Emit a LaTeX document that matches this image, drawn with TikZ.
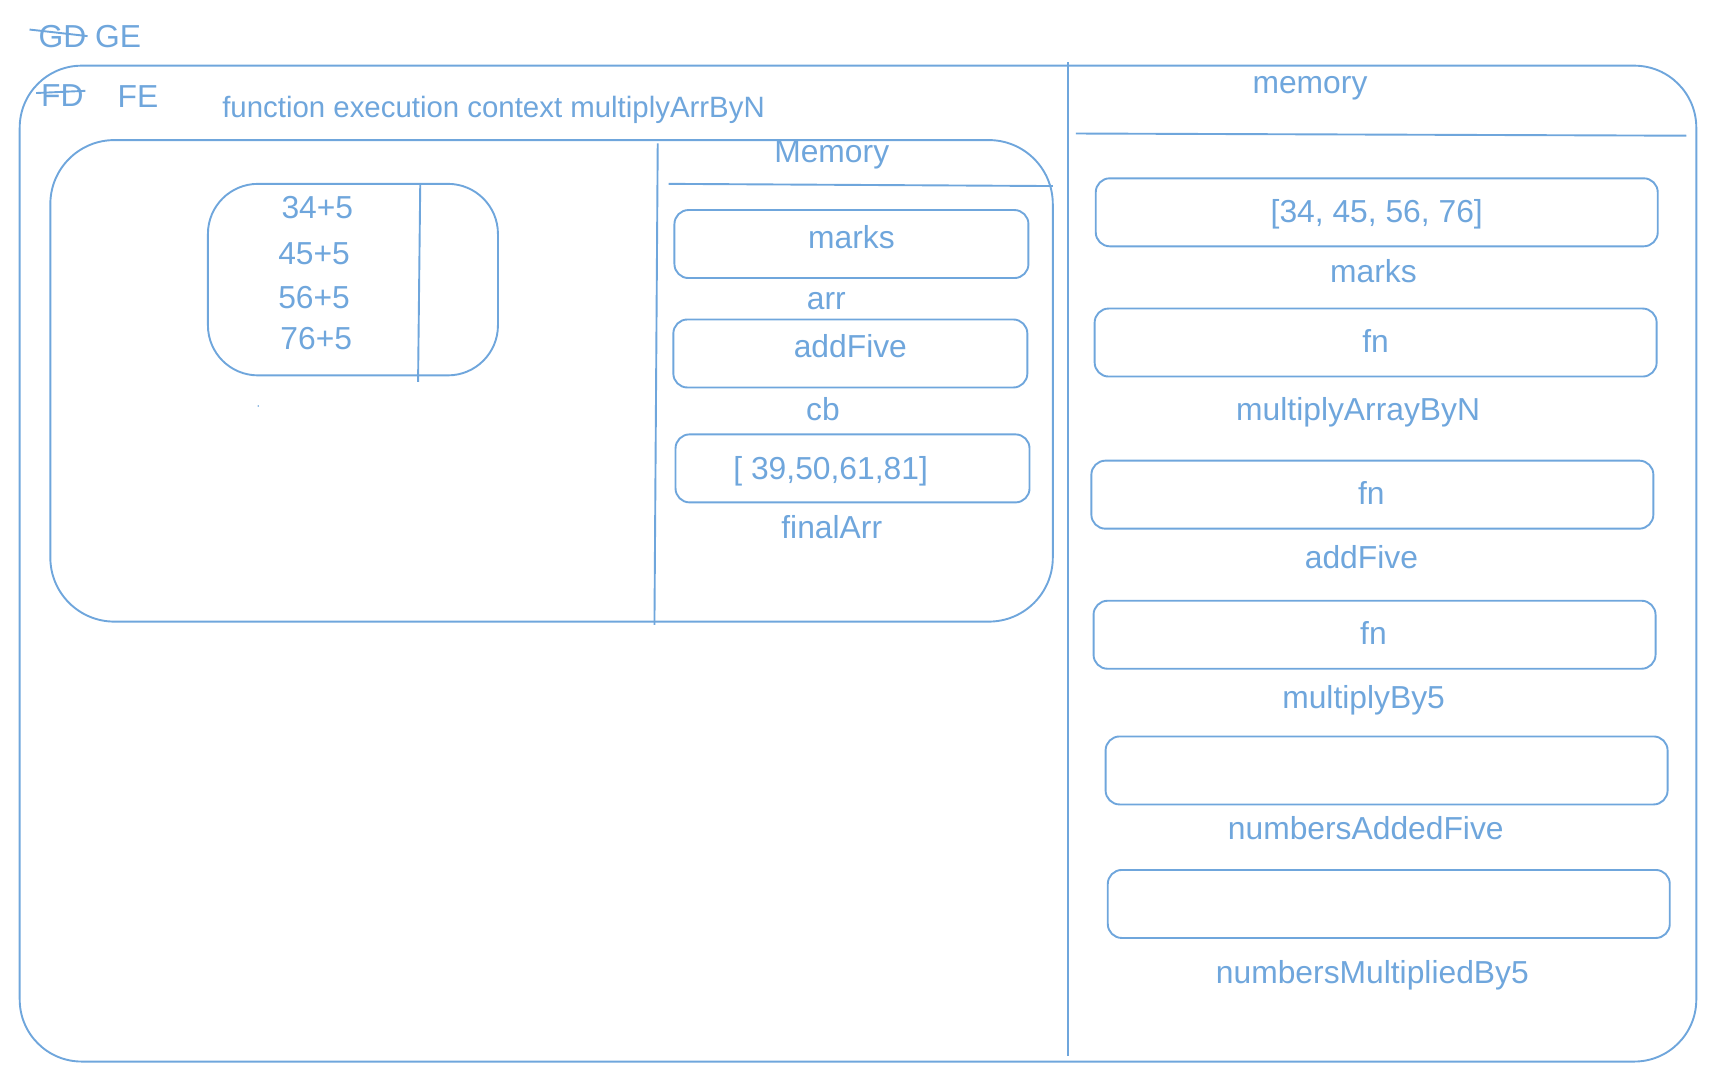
\documentclass[tikz,border=0pt]{standalone}
\usepackage{fontspec}
\setmainfont{Liberation Sans}
\definecolor{lblue}{RGB}{111,166,220}
\begin{document}
\begin{tikzpicture}[x=1.0944pt,y=-1.0944pt,
  lbl/.style={inner sep=0pt,text height=22pt,text depth=0pt,text=lblue,font=\fontsize{31.8}{37}\selectfont},
  smalllbl/.style={lbl,font=\fontsize{29.4}{34}\selectfont},
  ln/.style={draw=lblue,line width=1.9pt},
  membox/.style={ln,rounded corners=14pt,minimum width=562pt,minimum height=68pt,inner sep=0pt},
  lmembox/.style={ln,rounded corners=14pt,minimum width=354pt,minimum height=68pt,inner sep=0pt}]
\useasboundingbox (0,0) rectangle (1568,989);
% title marks
\node[lbl] (gd) at (57,33) {GD};
\node[lbl] (ge) at (108,33) {GE};
\coordinate (gds) at (27,27); \coordinate (gde) at (80,33);
\draw[ln] (gds) -- (gde);
% outer global box
\draw[ln,rounded corners=62pt] (18,60) rectangle (1550,970);
\coordinate (dvt) at (976,57); \coordinate (dvb) at (976,965);
\draw[ln] (dvt) -- (dvb);
\node[lbl] (fd) at (57,87) {FD};
\node[lbl] (fe) at (126,88) {FE};
\coordinate (fds) at (33,85); \coordinate (fde) at (78,83);
\draw[ln] (fds) -- (fde);
\node[smalllbl] (fectitle) at (451,97) {function execution context multiplyArrByN};
% function execution context box
\draw[ln,rounded corners=64pt] (46,128) rectangle (962,568);
\coordinate (ivt) at (601,131); \coordinate (ivb) at (598,571);
\draw[ln] (ivt) -- (ivb);
\node[lbl] (memL) at (760,138) {Memory};
\coordinate (mlA) at (611,168); \coordinate (mlB) at (962,170);
\draw[ln] (mlA) -- (mlB);
\node[lmembox] (bmarks) at (778,223) {};
\node[lbl] (tmarks) at (778,217) {marks};
\node[lbl] (tarr) at (755,273) {arr};
\node[lmembox] (badd) at (777,323) {};
\node[lbl] (tadd) at (777,317) {addFive};
\node[lbl] (tcb) at (752,374) {cb};
\node[lmembox] (bres) at (779,428) {};
\node[lbl] (tres) at (759,428) {[ 39,50,61,81]};
\node[lbl] (tfinal) at (760,482) {finalArr};
% small calc box
\draw[ln,rounded corners=50pt] (190,168) rectangle (455,343);
\coordinate (svt) at (384,168); \coordinate (svb) at (382,349);
\draw[ln] (svt) -- (svb);
\node[lbl] (c1) at (290,190) {34+5};
\node[lbl] (c2) at (287,232) {45+5};
\node[lbl] (c3) at (287,272) {56+5};
\node[lbl] (c4) at (289,309) {76+5};
\fill[lblue] (236,371) circle (0.8pt);
% global memory
\node[lbl] (memG) at (1197,75) {memory};
\coordinate (gmA) at (983,122); \coordinate (gmB) at (1541,124);
\draw[ln] (gmA) -- (gmB);
\node[membox] (g1) at (1258,194) {};
\node[lbl] (tg1) at (1258,193) {[34, 45, 56, 76]};
\node[lbl] (lg1) at (1255,248) {marks};
\node[membox] (g2) at (1257,313) {};
\node[lbl] (tg2) at (1257,312) {fn};
\node[lbl] (lg2) at (1241,374) {multiplyArrayByN};
\node[membox] (g3) at (1254,452) {};
\node[lbl] (tg3) at (1253,451) {fn};
\node[lbl] (lg3) at (1244,509) {addFive};
\node[membox] (g4) at (1256,580) {};
\node[lbl] (tg4) at (1255,579) {fn};
\node[lbl] (lg4) at (1246,637) {multiplyBy5};
\node[membox] (g5) at (1267,704) {};
\node[lbl] (lg5) at (1248,757) {numbersAddedFive};
\node[membox] (g6) at (1269,826) {};
\node[lbl] (lg6) at (1254,889) {numbersMultipliedBy5};
\end{tikzpicture}
\end{document}
